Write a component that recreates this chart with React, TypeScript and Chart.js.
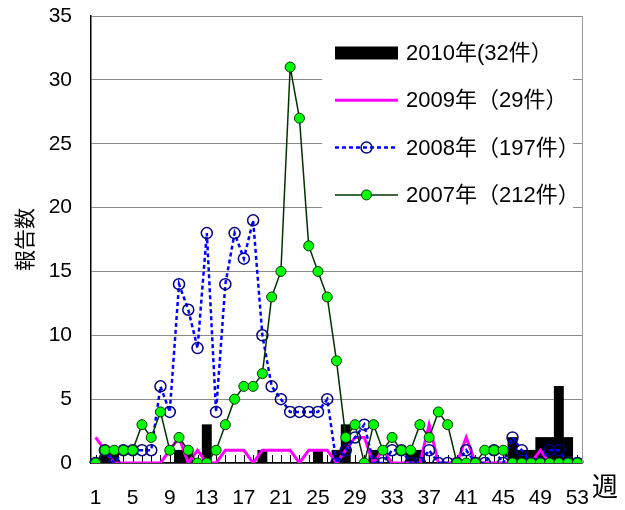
import React, { useEffect, useRef } from "react";
import { Chart, registerables } from "chart.js";

Chart.register(...registerables);

const weeks = [
  1, 2, 3, 4, 5, 6, 7, 8, 9, 10, 11, 12, 13, 14, 15, 16, 17, 18, 19, 20, 21, 22, 23, 24, 25, 26,
  27, 28, 29, 30, 31, 32, 33, 34, 35, 36, 37, 38, 39, 40, 41, 42, 43, 44, 45, 46, 47, 48, 49, 50,
  51, 52, 53,
];
const shownWeeks = [1, 5, 9, 13, 17, 21, 25, 29, 33, 37, 41, 45, 49, 53];

const cases2010 = [
  0, 1, 1, 0, 0, 0, 0, 0, 0, 1,
  1, 0, 3, 0, 0, 0, 0, 0, 1, 0,
  0, 0, 0, 0, 1, 0, 1, 3, 0, 0,
  1, 0, 0, 0, 1, 1, 0, 0, 0, 0,
  0, 0, 0, 0, 0, 2, 1, 1, 2, 2,
  6, 2, 0,
];
const cases2009 = [
  2, 1, 0, 0, 0, 0, 0, 0, 1, 2,
  0, 1, 0, 0, 1, 1, 1, 0, 1, 1,
  1, 1, 0, 1, 1, 1, 0, 1, 2, 2,
  0, 1, 0, 0, 0, 0, 3, 0, 0, 0,
  2, 0, 0, 0, 0, 0, 0, 0, 1, 0,
  0, 0, 0,
];
const cases2008 = [
  0, 1, 0, 1, 1, 1, 1, 6, 4, 14,
  12, 9, 18, 4, 14, 18, 16, 19, 10, 6,
  5, 4, 4, 4, 4, 5, 0, 1, 2, 3,
  0, 0, 1, 1, 0, 0, 1, 0, 0, 0,
  1, 0, 0, 1, 0, 2, 1, 0, 0, 1,
  1, 0, 0,
];
const cases2007 = [
  0, 1, 1, 1, 1, 3, 2, 4, 1, 2,
  1, 0, 0, 1, 3, 5, 6, 6, 7, 13,
  15, 31, 27, 17, 15, 13, 8, 2, 3, 0,
  3, 1, 2, 1, 1, 3, 2, 4, 3, 0,
  0, 0, 1, 1, 1, 0, 0, 0, 0, 0,
  0, 0, 0,
];
const seriesLabels = ["2010年(32件）", "2009年（29件）", "2008年（197件）", "2007年（212件）"];
const yAxisTitle = "報告数";
const xAxisUnit = "週";

const LATIN = "'Liberation Sans', Arial, 'Noto Sans CJK JP', sans-serif";
const CJK = "'Noto Sans CJK JP', 'Liberation Sans', sans-serif";

const MAGENTA = "#ff00ff";
const BLUE = "#0000ff";
const NAVY = "#000080";
const DKGREEN = "#003300";
const LIME = "#00ff00";

const innerTicks = {
  id: "innerTicks",
  beforeDatasetsDraw(chart: any) {
    const { ctx, chartArea, scales } = chart;
    const x = scales.x;
    ctx.save();
    ctx.strokeStyle = "#000";
    ctx.lineWidth = 1;
    for (let i = 0; i < weeks.length; i++) {
      const px = Math.round(x.getPixelForValue(i)) + 0.5;
      ctx.beginPath();
      ctx.moveTo(px, chartArea.bottom);
      ctx.lineTo(px, chartArea.bottom - 8);
      ctx.stroke();
    }
    ctx.restore();
  },
};

const decorations = {
  id: "decorations",
  afterDraw(chart: any) {
    const { ctx, chartArea } = chart;
    ctx.save();
    // right border
    ctx.strokeStyle = "#9a9a9a";
    ctx.lineWidth = 1;
    ctx.beginPath();
    ctx.moveTo(Math.round(chartArea.right) + 0.5, chartArea.top);
    ctx.lineTo(Math.round(chartArea.right) + 0.5, chartArea.bottom);
    ctx.stroke();

    // legend
    const boxL = chartArea.right - 260;
    const boxT = chartArea.top + 8;
    ctx.fillStyle = "#fff";
    ctx.fillRect(boxL, boxT, 251, 194);
    const x0 = boxL + 13;
    const x1 = boxL + 76;
    const xm = (x0 + x1) / 2;
    const tx = boxL + 84;
    ctx.font = `22px ${LATIN}`;
    ctx.textBaseline = "middle";
    ctx.textAlign = "left";
    seriesLabels.forEach((label, i) => {
      const cy = boxT + 29 + i * 47.3;
      ctx.save();
      if (i === 0) {
        ctx.fillStyle = "#000";
        ctx.fillRect(x0, cy - 6.5, x1 - x0, 13);
      } else if (i === 1) {
        ctx.strokeStyle = MAGENTA;
        ctx.lineWidth = 3;
        ctx.beginPath();
        ctx.moveTo(x0, cy);
        ctx.lineTo(x1, cy);
        ctx.stroke();
      } else if (i === 2) {
        ctx.strokeStyle = BLUE;
        ctx.lineWidth = 2.5;
        ctx.setLineDash([4, 3]);
        ctx.beginPath();
        ctx.moveTo(x0, cy);
        ctx.lineTo(x1, cy);
        ctx.stroke();
        ctx.setLineDash([]);
        ctx.strokeStyle = NAVY;
        ctx.lineWidth = 1.5;
        ctx.beginPath();
        ctx.arc(xm, cy, 5.5, 0, Math.PI * 2);
        ctx.stroke();
      } else {
        ctx.strokeStyle = DKGREEN;
        ctx.lineWidth = 1.5;
        ctx.beginPath();
        ctx.moveTo(x0, cy);
        ctx.lineTo(x1, cy);
        ctx.stroke();
        ctx.fillStyle = LIME;
        ctx.lineWidth = 1;
        ctx.beginPath();
        ctx.arc(xm, cy, 5, 0, Math.PI * 2);
        ctx.fill();
        ctx.stroke();
      }
      ctx.restore();
      ctx.fillStyle = "#000";
      ctx.fillText(label, tx, cy + 1);
    });

    // x unit
    ctx.font = `26px ${CJK}`;
    ctx.fillStyle = "#000";
    ctx.textAlign = "center";
    ctx.textBaseline = "middle";
    ctx.fillText(xAxisUnit, chartArea.right + 23, chartArea.bottom + 23);
    ctx.restore();
  },
};

export default function App() {
  const canvasRef = useRef<HTMLCanvasElement | null>(null);

  useEffect(() => {
    document.body.style.margin = "0";
    const canvas = canvasRef.current;
    if (!canvas) return;
    const chart = new Chart(canvas, {
      type: "bar",
      data: {
        labels: weeks.map(String),
        datasets: [
          {
            type: "bar",
            label: seriesLabels[0],
            data: cases2010,
            backgroundColor: "#000",
            borderWidth: 0,
            barPercentage: 1,
            categoryPercentage: 1,
            order: 4,
          },
          {
            type: "line",
            label: seriesLabels[1],
            data: cases2009,
            borderColor: MAGENTA,
            borderWidth: 3,
            pointRadius: 0,
            tension: 0,
            order: 3,
          },
          {
            type: "line",
            label: seriesLabels[2],
            data: cases2008,
            borderColor: BLUE,
            borderWidth: 2.5,
            borderDash: [4, 3],
            pointRadius: 5.5,
            pointBorderColor: NAVY,
            pointBorderWidth: 1.5,
            pointBackgroundColor: "rgba(0,0,0,0)",
            tension: 0,
            order: 2,
          },
          {
            type: "line",
            label: seriesLabels[3],
            data: cases2007,
            borderColor: DKGREEN,
            borderWidth: 1.5,
            pointRadius: 5,
            pointBorderColor: DKGREEN,
            pointBorderWidth: 1,
            pointBackgroundColor: LIME,
            tension: 0,
            order: 1,
          },
        ] as any,
      },
      options: {
        animation: false,
        responsive: true,
        maintainAspectRatio: false,
        layout: { padding: { left: 0, right: 43, top: 16, bottom: 0 } },
        plugins: {
          legend: { display: false },
          tooltip: { enabled: false },
        },
        scales: {
          x: {
            offset: true,
            grid: { display: false, drawTicks: false },
            border: { display: true, color: "#000", width: 1.5 },
            ticks: {
              autoSkip: false,
              maxRotation: 0,
              padding: 23,
              color: "#000",
              font: { family: LATIN, size: 21 },
              callback: (_v: any, idx: number) =>
                shownWeeks.includes(weeks[idx]) ? String(weeks[idx]) : "",
            },
            afterFit: (scale: any) => {
              scale.height = 47;
            },
          },
          y: {
            min: 0,
            max: 35,
            ticks: {
              stepSize: 5,
              padding: 3,
              color: "#000",
              font: { family: LATIN, size: 21 },
            },
            grid: {
              color: "#8a8a8a",
              lineWidth: 1,
              drawTicks: true,
              tickLength: 16,
              tickColor: "rgba(0,0,0,0)",
            },
            border: { display: true, color: "#000", width: 1.5 },
            title: {
              display: true,
              text: yAxisTitle,
              color: "#000",
              font: { family: CJK, size: 21 },
              padding: { top: 11, bottom: 0 },
            },
            afterFit: (scale: any) => {
              scale.width = 91;
            },
          },
        },
      } as any,
      plugins: [innerTicks, decorations],
    });
    return () => chart.destroy();
  }, []);

  return (
    <div style={{ width: 625, height: 510, position: "relative" }}>
      <canvas ref={canvasRef} />
    </div>
  );
}
